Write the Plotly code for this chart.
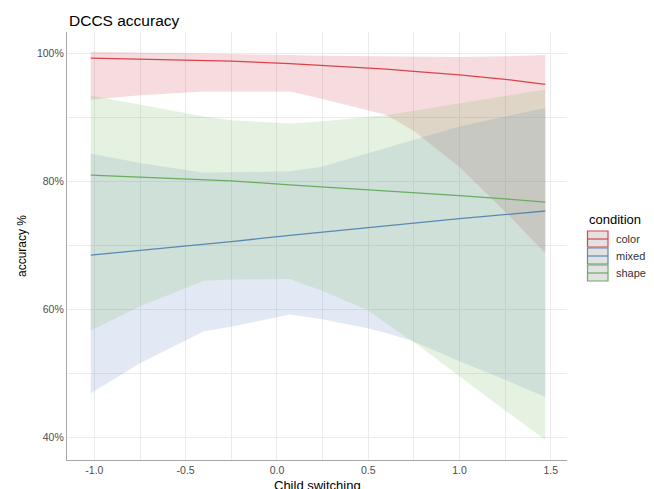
import plotly.graph_objects as go

# Child switching score at which the model predictions were evaluated
switching = [-1.02, -0.75, -0.40, -0.25, 0.07, 0.24, 0.49, 0.60, 0.75, 1.00, 1.25, 1.47]

# Predicted DCCS accuracy (%) with confidence limits, per condition
color_fit = [99.3, 99.15, 98.95, 98.85, 98.45, 98.2, 97.8, 97.6, 97.25, 96.7, 96.0, 95.2]
color_upper = [100.3, 100.2, 100.05, 100.0, 99.8, 99.7, 99.6, 99.6, 99.55, 99.5, 99.6, 99.8]
color_lower = [92.8, 93.5, 94.1, 94.1, 94.1, 93.0, 91.2, 90.4, 87.9, 82.3, 75.3, 68.8]

mixed_fit = [68.5, 69.2, 70.2, 70.6, 71.6, 72.1, 72.8, 73.1, 73.5, 74.2, 74.8, 75.4]
mixed_upper = [84.4, 82.9, 81.4, 81.5, 81.6, 82.3, 84.4, 85.3, 86.5, 88.6, 90.2, 91.5]
mixed_lower = [46.9, 51.6, 56.6, 57.3, 59.2, 58.5, 57.1, 56.3, 55.0, 51.9, 49.0, 46.3]

shape_fit = [81.0, 80.7, 80.3, 80.1, 79.5, 79.2, 78.8, 78.6, 78.3, 77.8, 77.3, 76.8]
shape_upper = [93.45, 92.0, 90.2, 89.6, 89.1, 89.4, 90.1, 90.4, 91.1, 92.3, 93.4, 94.4]
shape_lower = [56.7, 60.5, 64.5, 64.7, 64.75, 63.0, 60.0, 57.8, 54.9, 49.5, 44.2, 39.6]

conditions = ["color", "mixed", "shape"]
x_ticks = [-1.0, -0.5, 0.0, 0.5, 1.0, 1.5]
x_tick_labels = ["-1.0", "-0.5", "0.0", "0.5", "1.0", "1.5"]
y_ticks = [40, 60, 80, 100]
y_tick_labels = ["40%", "60%", "80%", "100%"]

series = {
    "color": (color_fit, color_lower, color_upper),
    "mixed": (mixed_fit, mixed_lower, mixed_upper),
    "shape": (shape_fit, shape_lower, shape_upper),
}
line_colors = {"color": "#d9444a", "mixed": "#5a88b2", "shape": "#6aad5e"}
fill_colors = {
    "color": "rgba(205,70,80,0.19)",
    "mixed": "rgba(100,140,195,0.19)",
    "shape": "rgba(120,185,95,0.19)",
}

FONT = "Liberation Sans, Arial, sans-serif"
W, H = 654, 489
ML, MR, MT, MB = 67, 87, 32, 29
PW, PH = W - ML - MR, H - MT - MB


def px(xp):
    return (xp - ML) / PW


def py(yp):
    return (H - MB - yp) / PH


fig = go.Figure()

# confidence ribbons
for c in conditions:
    fit, lo, hi = series[c]
    fig.add_trace(go.Scatter(
        x=switching + switching[::-1],
        y=hi + lo[::-1],
        fill="toself",
        fillcolor=fill_colors[c],
        line=dict(width=0),
        mode="lines",
        hoverinfo="skip",
        showlegend=False,
    ))

# fitted lines
for c in conditions:
    fit, lo, hi = series[c]
    fig.add_trace(go.Scatter(
        x=switching, y=fit, mode="lines",
        line=dict(color=line_colors[c], width=1.3),
        name=c, showlegend=False,
    ))

grid = "#ebebeb"
fig.update_xaxes(
    range=[-1.15, 1.589],
    tickvals=x_ticks, ticktext=x_tick_labels,
    showgrid=True, gridcolor=grid, gridwidth=1,
    minor=dict(dtick=0.25, tick0=0, showgrid=True, gridcolor=grid, gridwidth=1),
    showline=True, linecolor="#a6a6a6", linewidth=1.2,
    zeroline=False, ticks="",
    tickfont=dict(family=FONT, size=10.5, color="#4d4d4d"),
)
fig.update_yaxes(
    range=[36.45, 103.4],
    tickvals=y_ticks, ticktext=y_tick_labels,
    showgrid=True, gridcolor=grid, gridwidth=1,
    minor=dict(dtick=10, tick0=0, showgrid=True, gridcolor=grid, gridwidth=1),
    showline=True, linecolor="#a6a6a6", linewidth=1.2,
    zeroline=False, ticks="",
    tickfont=dict(family=FONT, size=10.5, color="#4d4d4d"),
)

annotations = [
    dict(text="DCCS accuracy", x=px(67), y=py(20), xref="paper", yref="paper",
         xanchor="left", yanchor="middle", showarrow=False,
         font=dict(family=FONT, size=15.5, color="#000000")),
    dict(text="Child switching", x=0.5, y=py(476), xref="paper", yref="paper",
         xanchor="center", yanchor="top", showarrow=False,
         font=dict(family=FONT, size=13, color="#000000")),
    dict(text="accuracy %", x=px(22), y=0.5, xref="paper", yref="paper",
         xanchor="center", yanchor="middle", textangle=-90, showarrow=False,
         font=dict(family=FONT, size=12, color="#000000")),
    dict(text="condition", x=px(587), y=py(219), xref="paper", yref="paper",
         xanchor="left", yanchor="middle", showarrow=False,
         font=dict(family=FONT, size=13, color="#000000")),
]

shapes = []
key_tops = [231, 248, 265]
for c, top in zip(conditions, key_tops):
    shapes.append(dict(type="rect", xref="paper", yref="paper",
                       x0=px(587.5), x1=px(608), y0=py(top + 16), y1=py(top),
                       fillcolor="#e2e2e2",
                       line=dict(color=line_colors[c], width=1.2)))
    shapes.append(dict(type="line", xref="paper", yref="paper",
                       x0=px(587.5), x1=px(608), y0=py(top + 8), y1=py(top + 8),
                       line=dict(color=line_colors[c], width=1.2)))
    annotations.append(dict(text=c, x=px(614), y=py(top + 8), xref="paper", yref="paper",
                            xanchor="left", yanchor="middle", showarrow=False,
                            font=dict(family=FONT, size=11, color="#333333")))

fig.update_layout(
    width=W, height=H,
    margin=dict(l=ML, r=MR, t=MT, b=MB),
    paper_bgcolor="white", plot_bgcolor="white",
    showlegend=False,
    annotations=annotations,
    shapes=shapes,
)

fig.write_html("out.html")
